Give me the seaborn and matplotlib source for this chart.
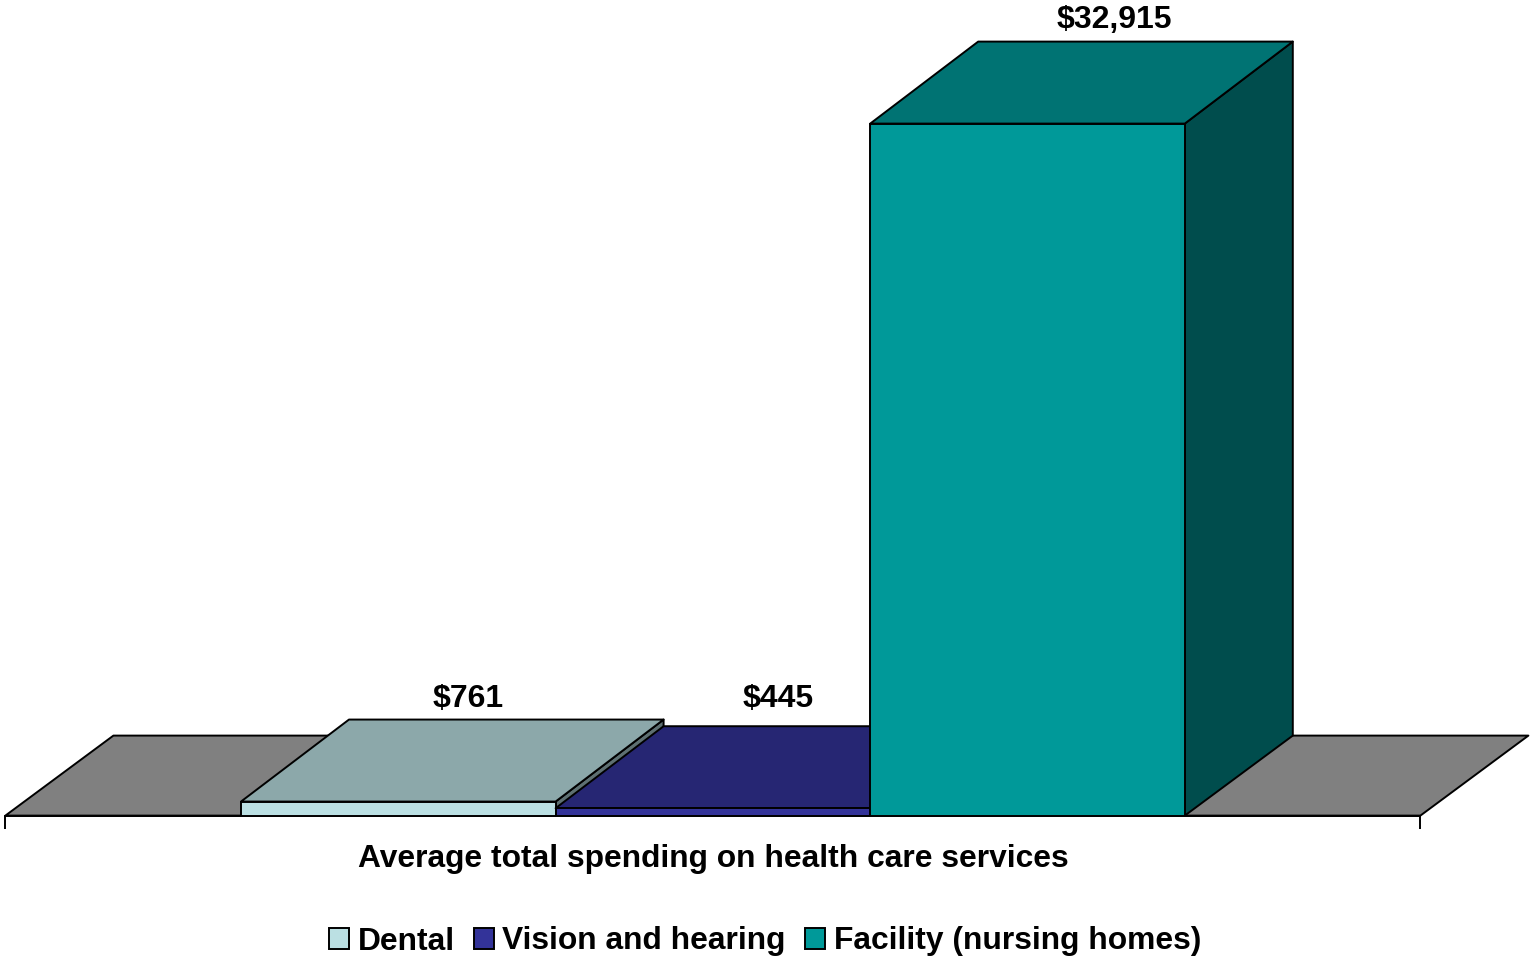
import matplotlib
matplotlib.use('Agg')
import matplotlib.pyplot as plt
from matplotlib.colors import to_rgb
from matplotlib.patches import Polygon
import pandas as pd
import seaborn as sns

category = ["Average total spending on health care services"]
series = ["Dental", "Vision and hearing", "Facility (nursing homes)"]
spending = [761, 445, 32915]
bar_labels = ["$761", "$445", "$32,915"]
colors = ["#BBE0E3", "#333399", "#009999"]

df = pd.DataFrame({"Category": category * 3, "Series": series, "Spending": spending})

sns.set_style('white')
plt.rcParams['font.family'] = ['Liberation Sans', 'DejaVu Sans']

LW = 1.4
W, H = 1530, 957

fig = plt.figure(figsize=(W / 100, H / 100), dpi=100)
ax = fig.add_axes([5.4 / W, 1 - 815.6 / H, 1415 / W, 815.6 / H])
ax.patch.set_alpha(0)

sns.barplot(data=df, x="Category", y="Spending", hue="Series", hue_order=series,
            palette=colors, saturation=1, width=0.667, gap=0, edgecolor='black',
            linewidth=LW, ax=ax)

ax.set_xlim(-0.5, 0.5)
ymin, ymax = 95, 38777
ax.set_ylim(ymin, ymax)

# fake 3d depth, in data units
depth_x = 108 / 1415
depth_top = 82 * 47.43
depth_floor = 80 * 47.43


def shade(color, factor):
    return tuple(c * factor for c in to_rgb(color))


def add_face(points, color, z):
    ax.add_patch(Polygon(points, closed=True, facecolor=color, edgecolor='black',
                         linewidth=LW, joinstyle='round', clip_on=False, zorder=z))


x_left, x_right = ax.get_xlim()
add_face([(x_left, ymin), (x_left + depth_x, ymin + depth_floor),
          (x_right + depth_x, ymin + depth_floor), (x_right, ymin)], '#808080', 1)

label_offsets = [(69.5, 103), (65.5, 109), (87, 104)]
bars = [c[0] for c in ax.containers]
for i, bar in enumerate(bars):
    x0 = bar.get_x()
    x1 = x0 + bar.get_width()
    v = bar.get_height()
    z = 2 + i
    add_face([(x1, ymin), (x1, v), (x1 + depth_x, v + depth_top),
              (x1 + depth_x, ymin + depth_floor)], shade(colors[i], 0.5), z)
    add_face([(x0, v), (x1, v), (x1 + depth_x, v + depth_top),
              (x0 + depth_x, v + depth_top)], shade(colors[i], 0.75), z + 0.1)
    bar.set_zorder(z + 0.2)
    ax.annotate(bar_labels[i], (x0 + bar.get_width() / 2, v), xytext=label_offsets[i],
                textcoords='offset pixels', ha='center', va='center',
                fontsize=23, fontweight='bold', color='black', annotation_clip=False, zorder=10)

sns.despine(ax=ax, left=True, top=True, right=True)
ax.spines['bottom'].set_linewidth(LW)
ax.spines['bottom'].set_color('black')
ax.spines['bottom'].set_zorder(20)

ax.set_yticks([])
ax.set_ylabel('')
ax.set_xticks([x_left, x_right])
ax.set_xticklabels(['', ''])
ax.tick_params(axis='x', bottom=True, length=9.1, width=LW, color='black')
ax.set_xlabel(category[0], fontsize=22.9, fontweight='bold', color='black', labelpad=8)

handles, labels = ax.get_legend_handles_labels()
leg = ax.legend(handles, labels, loc='center', bbox_to_anchor=(0.5, 1 - 941.5 / H),
                bbox_transform=fig.transFigure, ncol=3, frameon=False, fontsize=22.9,
                handlelength=0.62, handleheight=0.62, handletextpad=0.28,
                columnspacing=0.6, borderpad=0, borderaxespad=0)
for text in leg.get_texts():
    text.set_fontweight('bold')
    text.set_color('black')
for h in leg.get_patches():
    h.set_edgecolor('black')
    h.set_linewidth(LW)

fig.savefig('out.png', dpi=100)
